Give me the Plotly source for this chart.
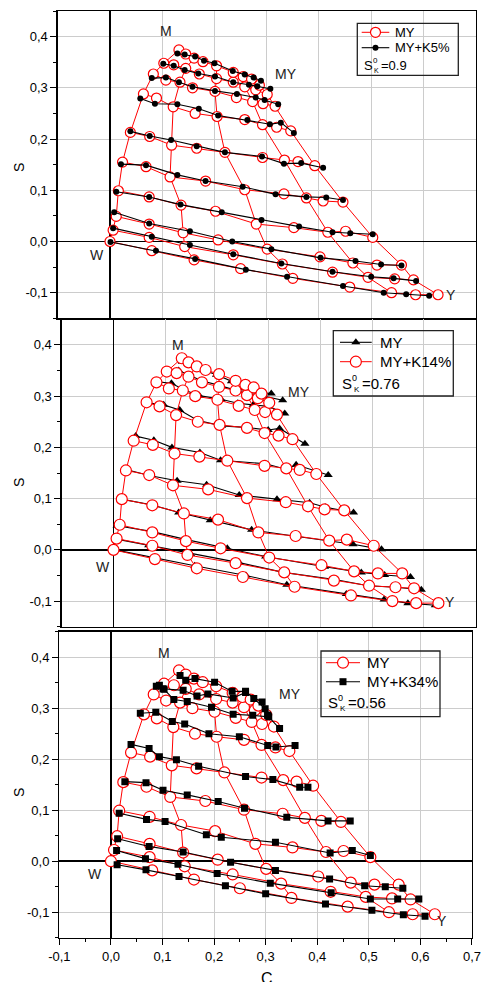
import plotly.graph_objects as go

# ---------------- data ----------------
C_TICKS = [-0.1, 0.0, 0.1, 0.2, 0.3, 0.4, 0.5, 0.6, 0.7]
C_TICK_TEXT = ["-0,1", "0,0", "0,1", "0,2", "0,3", "0,4", "0,5", "0,6", "0,7"]
S_TICKS = [-0.1, 0.0, 0.1, 0.2, 0.3, 0.4]
S_TICK_TEXT = ["-0,1", "0,0", "0,1", "0,2", "0,3", "0,4"]

# reference MY grid (rows of constant M, 9 points each)
MY_C = [
    [0.000, 0.080, 0.161, 0.250, 0.350, 0.459, 0.539, 0.585, 0.628],
    [0.006, 0.075, 0.143, 0.236, 0.330, 0.426, 0.494, 0.545, 0.581],
    [0.012, 0.075, 0.140, 0.207, 0.301, 0.402, 0.465, 0.511, 0.558],
    [0.016, 0.075, 0.136, 0.202, 0.280, 0.352, 0.417, 0.451, 0.503],
    [0.024, 0.069, 0.115, 0.183, 0.258, 0.333, 0.376, 0.408, 0.446],
    [0.039, 0.076, 0.118, 0.166, 0.220, 0.292, 0.334, 0.360, 0.392],
    [0.064, 0.089, 0.121, 0.163, 0.205, 0.258, 0.292, 0.319, 0.346],
    [0.083, 0.107, 0.134, 0.158, 0.201, 0.242, 0.273, 0.293, 0.316],
    [0.103, 0.122, 0.145, 0.171, 0.204, 0.236, 0.258, 0.279, 0.301],
    [0.132, 0.145, 0.161, 0.178, 0.204, 0.236, 0.255, 0.271, 0.286],
]
MY_S = [
    [0.000, -0.018, -0.036, -0.053, -0.072, -0.089, -0.100, -0.104, -0.104],
    [0.022, 0.008, -0.010, -0.026, -0.044, -0.060, -0.070, -0.073, -0.075],
    [0.049, 0.034, 0.017, 0.003, -0.015, -0.030, -0.042, -0.046, -0.046],
    [0.099, 0.087, 0.071, 0.059, 0.034, 0.027, 0.018, 0.020, 0.008],
    [0.155, 0.146, 0.126, 0.118, 0.101, 0.093, 0.085, 0.079, 0.077],
    [0.213, 0.205, 0.188, 0.182, 0.174, 0.164, 0.159, 0.156, 0.148],
    [0.288, 0.280, 0.263, 0.250, 0.244, 0.238, 0.228, 0.223, 0.216],
    [0.327, 0.315, 0.311, 0.300, 0.293, 0.281, 0.273, 0.269, 0.264],
    [0.348, 0.345, 0.338, 0.327, 0.318, 0.311, 0.302, 0.296, 0.287],
    [0.374, 0.366, 0.358, 0.351, 0.343, 0.330, 0.322, 0.317, 0.305],
]
GRID_COLUMNS = [0, 2, 4, 6, 8]

K5_C = [
    [0.001, 0.088, 0.163, 0.260, 0.339, 0.446, 0.524, 0.567, 0.611],
    [0.006, 0.080, 0.153, 0.236, 0.328, 0.426, 0.500, 0.543, 0.586],
    [0.008, 0.075, 0.153, 0.234, 0.309, 0.403, 0.470, 0.519, 0.558],
    [0.012, 0.075, 0.135, 0.214, 0.290, 0.362, 0.426, 0.460, 0.503],
    [0.021, 0.069, 0.129, 0.183, 0.254, 0.317, 0.376, 0.414, 0.446],
    [0.039, 0.076, 0.117, 0.166, 0.220, 0.291, 0.333, 0.366, 0.408],
    [0.058, 0.086, 0.129, 0.170, 0.207, 0.263, 0.306, 0.327, 0.352],
    [0.080, 0.107, 0.132, 0.158, 0.201, 0.243, 0.279, 0.296, 0.322],
    [0.102, 0.122, 0.143, 0.169, 0.201, 0.236, 0.266, 0.282, 0.307],
    [0.129, 0.143, 0.163, 0.180, 0.200, 0.235, 0.258, 0.275, 0.289],
]
K5_S = [
    [-0.001, -0.018, -0.034, -0.055, -0.069, -0.087, -0.100, -0.103, -0.106],
    [0.026, 0.009, -0.007, -0.025, -0.043, -0.059, -0.069, -0.072, -0.077],
    [0.057, 0.035, 0.020, 0.000, -0.015, -0.032, -0.038, -0.045, -0.047],
    [0.097, 0.087, 0.072, 0.057, 0.042, 0.029, 0.018, 0.016, 0.014],
    [0.151, 0.149, 0.130, 0.118, 0.107, 0.092, 0.087, 0.086, 0.081],
    [0.215, 0.206, 0.198, 0.186, 0.174, 0.166, 0.152, 0.153, 0.144],
    [0.279, 0.269, 0.268, 0.259, 0.246, 0.237, 0.229, 0.232, 0.212],
    [0.319, 0.320, 0.311, 0.302, 0.294, 0.288, 0.281, 0.276, 0.268],
    [0.347, 0.343, 0.335, 0.328, 0.322, 0.311, 0.306, 0.303, 0.298],
    [0.367, 0.365, 0.361, 0.353, 0.348, 0.333, 0.326, 0.320, 0.314],
]

K14_C = [
    [0.003, 0.080, 0.157, 0.256, 0.335, 0.450, 0.523, 0.569, 0.622],
    [0.006, 0.068, 0.149, 0.243, 0.328, 0.428, 0.492, 0.545, 0.595],
    [0.007, 0.073, 0.141, 0.220, 0.294, 0.408, 0.479, 0.524, 0.574],
    [0.015, 0.073, 0.126, 0.187, 0.267, 0.355, 0.417, 0.463, 0.518],
    [0.028, 0.069, 0.123, 0.180, 0.243, 0.316, 0.379, 0.410, 0.464],
    [0.043, 0.078, 0.113, 0.167, 0.207, 0.294, 0.335, 0.353, 0.415],
    [0.064, 0.097, 0.128, 0.162, 0.209, 0.256, 0.299, 0.321, 0.370],
    [0.085, 0.112, 0.137, 0.166, 0.208, 0.240, 0.270, 0.300, 0.331],
    [0.105, 0.126, 0.147, 0.170, 0.201, 0.238, 0.258, 0.290, 0.327],
    [0.133, 0.144, 0.163, 0.175, 0.199, 0.228, 0.247, 0.267, 0.305],
]
K14_S = [
    [0.000, -0.016, -0.031, -0.050, -0.068, -0.086, -0.097, -0.104, -0.108],
    [0.021, 0.009, -0.008, -0.025, -0.044, -0.058, -0.070, -0.073, -0.078],
    [0.047, 0.036, 0.020, 0.003, -0.013, -0.033, -0.044, -0.049, -0.053],
    [0.099, 0.088, 0.073, 0.058, 0.039, 0.026, 0.018, 0.011, 0.001],
    [0.156, 0.145, 0.135, 0.127, 0.107, 0.099, 0.092, 0.083, 0.073],
    [0.222, 0.214, 0.200, 0.190, 0.175, 0.168, 0.157, 0.166, 0.146],
    [0.287, 0.283, 0.273, 0.253, 0.242, 0.239, 0.234, 0.237, 0.207],
    [0.328, 0.325, 0.312, 0.301, 0.294, 0.286, 0.283, 0.280, 0.266],
    [0.351, 0.350, 0.341, 0.330, 0.322, 0.311, 0.305, 0.300, 0.292],
    [0.367, 0.364, 0.353, 0.350, 0.342, 0.329, 0.315, 0.309, 0.305],
]

K34_C = [
    [0.012, 0.068, 0.132, 0.222, 0.300, 0.416, 0.506, 0.567, 0.609],
    [0.011, 0.067, 0.130, 0.206, 0.309, 0.427, 0.503, 0.556, 0.597],
    [0.013, 0.074, 0.140, 0.232, 0.319, 0.424, 0.492, 0.532, 0.566],
    [0.016, 0.069, 0.105, 0.185, 0.214, 0.319, 0.425, 0.468, 0.503],
    [0.027, 0.068, 0.101, 0.148, 0.208, 0.259, 0.341, 0.421, 0.464],
    [0.039, 0.074, 0.094, 0.127, 0.170, 0.261, 0.314, 0.366, 0.382],
    [0.057, 0.087, 0.119, 0.143, 0.190, 0.249, 0.304, 0.320, 0.357],
    [0.088, 0.103, 0.122, 0.148, 0.195, 0.237, 0.275, 0.306, 0.327],
    [0.094, 0.101, 0.140, 0.167, 0.188, 0.237, 0.261, 0.293, 0.304],
    [0.134, 0.145, 0.163, 0.201, 0.235, 0.261, 0.277, 0.299, 0.304],
]
K34_S = [
    [-0.007, -0.017, -0.030, -0.048, -0.064, -0.084, -0.096, -0.105, -0.108],
    [0.021, 0.005, -0.006, -0.024, -0.043, -0.062, -0.074, -0.074, -0.074],
    [0.044, 0.029, 0.018, -0.002, -0.018, -0.035, -0.048, -0.050, -0.053],
    [0.094, 0.082, 0.078, 0.052, 0.047, 0.037, 0.016, 0.021, 0.011],
    [0.156, 0.154, 0.139, 0.130, 0.117, 0.104, 0.086, 0.079, 0.079],
    [0.229, 0.221, 0.205, 0.199, 0.186, 0.166, 0.160, 0.145, 0.145],
    [0.290, 0.292, 0.274, 0.269, 0.250, 0.244, 0.227, 0.224, 0.227],
    [0.343, 0.337, 0.317, 0.313, 0.302, 0.288, 0.286, 0.283, 0.260],
    [0.345, 0.338, 0.335, 0.324, 0.328, 0.320, 0.331, 0.312, 0.286],
    [0.364, 0.355, 0.358, 0.351, 0.333, 0.333, 0.319, 0.299, 0.286],
]

# ---------------- styling / layout constants ----------------
W, H = 481, 982
FONT = "Liberation Sans, Arial, sans-serif"
RED = "#ff0000"
BLACK = "#000000"

PANELS = [
    dict(dom_x=(57.7, 475.7), dom_y=(11.0, 318.3), kc=K5_C, ks=K5_S,
         sym="circle", ksize=6, red_first=True, rsize=10,
         red_name="MY", black_name="MY+K5%", s0="0.9",
         lab=dict(M=(0.108, 0.41), MY=(0.336, 0.327), W=(-0.025, -0.026), Y=(0.653, -0.104)),
         box=(357.3, 23.3, 458.3, 75.3), line=(361.7, 389.3), txt_x=392.7,
         rows=(32.3, 47.7, 65.0), fs=13, s_label_y=168),
    dict(dom_x=(61.7, 475.7), dom_y=(319.3, 626.7), kc=K14_C, ks=K14_S,
         sym="triangle-up", ksize=8, red_first=False, rsize=11,
         red_name="MY+K14%", black_name="MY", s0="0.76",
         lab=dict(M=(0.124, 0.40), MY=(0.359, 0.309), W=(-0.020, -0.034), Y=(0.650, -0.101)),
         box=(333.3, 330.7, 453.3, 396.0), line=(340.0, 371.7), txt_x=377.7,
         rows=(342.3, 361.7, 383.3), fs=15, s_label_y=483),
    dict(dom_x=(59.3, 472.0), dom_y=(631.7, 937.7), kc=K34_C, ks=K34_S,
         sym="square", ksize=7, red_first=True, rsize=11,
         red_name="MY", black_name="MY+K34%", s0="0.56",
         lab=dict(M=(0.103, 0.408), MY=(0.348, 0.328), W=(-0.031, -0.025), Y=(0.642, -0.118)),
         box=(321.0, 651.0, 440.0, 716.7), line=(326.0, 360.0), txt_x=365.0,
         rows=(662.7, 681.7, 702.7), fs=15, s_label_y=793),
]


def rows_path(cs, ss):
    xs, ys = [], []
    for rc, rs in zip(cs, ss):
        xs += list(rc) + [None]
        ys += list(rs) + [None]
    return xs, ys


def cols_path(cs, ss, cols):
    xs, ys = [], []
    for j in cols:
        xs += [r[j] for r in cs] + [None]
        ys += [r[j] for r in ss] + [None]
    return xs, ys


fig = go.Figure()
annotations = []
shapes = []

for i, p in enumerate(PANELS, start=1):
    xa = "x" if i == 1 else f"x{i}"
    ya = "y" if i == 1 else f"y{i}"

    def add_red():
        cx, cy = cols_path(MY_C, MY_S, GRID_COLUMNS)
        fig.add_trace(go.Scatter(x=cx, y=cy, mode="lines", xaxis=xa, yaxis=ya,
                                 line=dict(color=RED, width=1), hoverinfo="skip",
                                 showlegend=False))
        rx, ry = rows_path(MY_C, MY_S)
        fig.add_trace(go.Scatter(x=rx, y=ry, mode="lines+markers", xaxis=xa, yaxis=ya,
                                 line=dict(color=RED, width=1),
                                 marker=dict(symbol="circle", size=p["rsize"], color="white",
                                             line=dict(color=RED, width=1.2)),
                                 showlegend=False))

    def add_black():
        bx, by = rows_path(p["kc"], p["ks"])
        fig.add_trace(go.Scatter(x=bx, y=by, mode="lines+markers", xaxis=xa, yaxis=ya,
                                 line=dict(color=BLACK, width=1.1),
                                 marker=dict(symbol=p["sym"], size=p["ksize"], color=BLACK),
                                 showlegend=False))

    if p["red_first"]:
        add_red(); add_black()
    else:
        add_black(); add_red()

    # axes
    xd = [p["dom_x"][0] / W, p["dom_x"][1] / W]
    yd = [1 - p["dom_y"][1] / H, 1 - p["dom_y"][0] / H]
    common = dict(showline=True, mirror=True, linecolor=BLACK, linewidth=1.3,
                  showgrid=True, gridcolor="#cccccc", gridwidth=1,
                  zeroline=True, zerolinecolor=BLACK, zerolinewidth=1.5,
                  automargin=False,
                  tickfont=dict(family=FONT, size=13, color=BLACK), fixedrange=True)
    last = (i == 3)
    fig.update_layout(**{
        ("xaxis" if i == 1 else f"xaxis{i}"): dict(
            common, domain=xd, range=[-0.1001, 0.7001], anchor=ya,
            tickmode="array", tickvals=C_TICKS, ticktext=C_TICK_TEXT,
            showticklabels=last, ticks="outside" if last else "",
            ticklen=6, tickwidth=1, tickcolor=BLACK,
            minor=dict(tickmode="linear", tick0=0, dtick=0.05,
                       ticks="outside" if last else "", ticklen=3,
                       tickcolor=BLACK, showgrid=False)),
        ("yaxis" if i == 1 else f"yaxis{i}"): dict(
            common, domain=yd, range=[-0.15, 0.45], anchor=xa,
            tickmode="array", tickvals=S_TICKS, ticktext=S_TICK_TEXT,
            ticks="outside", ticklen=6, tickwidth=1, tickcolor=BLACK,
            minor=dict(tickmode="linear", tick0=0, dtick=0.05, ticks="outside",
                       ticklen=3, tickcolor=BLACK, showgrid=False)),
    })

    # corner labels
    for txt, (cx, cy) in p["lab"].items():
        annotations.append(dict(x=cx, y=cy, xref=xa, yref=ya, text=txt, showarrow=False,
                                font=dict(family=FONT, size=14, color="#222222"),
                                xanchor="center", yanchor="middle"))

    # S axis label
    annotations.append(dict(x=19, y=p["s_label_y"], xref="x4", yref="y4", text="S",
                            showarrow=False, textangle=-90,
                            font=dict(family=FONT, size=14, color=BLACK)))

    # legend box
    x0, y0, x1, y1 = p["box"]
    shapes.append(dict(type="rect", xref="x4", yref="y4", x0=x0, y0=y0, x1=x1, y1=y1,
                       line=dict(color="#222222", width=1.3), fillcolor="rgba(0,0,0,0)"))
    lx0, lx1 = p["line"]
    lm = (lx0 + lx1) / 2
    red_row = p["rows"][0] if p["red_first"] else p["rows"][1]
    blk_row = p["rows"][1] if p["red_first"] else p["rows"][0]
    fig.add_trace(go.Scatter(x=[lx0, lx1], y=[red_row] * 2, mode="lines",
                             xaxis="x4", yaxis="y4", line=dict(color=RED, width=1),
                             showlegend=False, hoverinfo="skip"))
    fig.add_trace(go.Scatter(x=[lm], y=[red_row], mode="markers",
                             xaxis="x4", yaxis="y4",
                             marker=dict(symbol="circle", size=p["rsize"], color="white",
                                         line=dict(color=RED, width=1.2)),
                             showlegend=False, hoverinfo="skip"))
    fig.add_trace(go.Scatter(x=[lx0, lx1], y=[blk_row] * 2, mode="lines",
                             xaxis="x4", yaxis="y4", line=dict(color=BLACK, width=1.1),
                             showlegend=False, hoverinfo="skip"))
    fig.add_trace(go.Scatter(x=[lm], y=[blk_row], mode="markers",
                             xaxis="x4", yaxis="y4",
                             marker=dict(symbol=p["sym"], size=p["ksize"], color=BLACK),
                             showlegend=False, hoverinfo="skip"))
    for name, yy in ((p["red_name"], red_row), (p["black_name"], blk_row)):
        annotations.append(dict(x=p["txt_x"], y=yy, xref="x4", yref="y4", text=name,
                                showarrow=False, xanchor="left", yanchor="middle",
                                font=dict(family=FONT, size=p["fs"], color=BLACK)))
    # "S" with stacked superscript 0 / subscript K, then "=value"
    fs = p["fs"]
    annotations.append(dict(x=lx0, y=p["rows"][2], xref="x4", yref="y4",
                            text="S", showarrow=False, xanchor="left", yanchor="middle",
                            font=dict(family=FONT, size=fs, color=BLACK)))
    annotations.append(dict(x=lx0 + round(fs * 0.68), y=p["rows"][2] - round(fs * 0.35),
                            xref="x4", yref="y4", text="0", showarrow=False,
                            xanchor="left", yanchor="middle",
                            font=dict(family=FONT, size=round(fs * 0.6), color=BLACK)))
    annotations.append(dict(x=lx0 + round(fs * 0.78), y=p["rows"][2] + round(fs * 0.42),
                            xref="x4", yref="y4", text="K", showarrow=False,
                            xanchor="left", yanchor="middle",
                            font=dict(family=FONT, size=round(fs * 0.55), color=BLACK)))
    annotations.append(dict(x=lx0 + round(fs * 1.3), y=p["rows"][2], xref="x4", yref="y4",
                            text="=" + p["s0"], showarrow=False,
                            xanchor="left", yanchor="middle",
                            font=dict(family=FONT, size=fs, color=BLACK)))

# C axis label (partly cut by the bottom edge, as in the reference)
annotations.append(dict(x=266.7, y=978, xref="x4", yref="y4", text="C", showarrow=False,
                        font=dict(family=FONT, size=16, color=BLACK)))

fig.update_layout(
    xaxis4=dict(domain=[0, 1], range=[0, W], visible=False, fixedrange=True,
                anchor="y4", automargin=False),
    yaxis4=dict(domain=[0, 1], range=[H, 0], visible=False, fixedrange=True,
                anchor="x4", automargin=False),
    width=W, height=H, margin=dict(l=0, r=0, t=0, b=0, autoexpand=False),
    paper_bgcolor="white", plot_bgcolor="rgba(0,0,0,0)",
    showlegend=False, annotations=annotations, shapes=shapes,
    font=dict(family=FONT), hovermode=False,
)

fig.write_html("out.html", config={"displayModeBar": False, "staticPlot": True},
               post_script="document.body.style.margin='0';document.body.style.overflow='hidden';")
